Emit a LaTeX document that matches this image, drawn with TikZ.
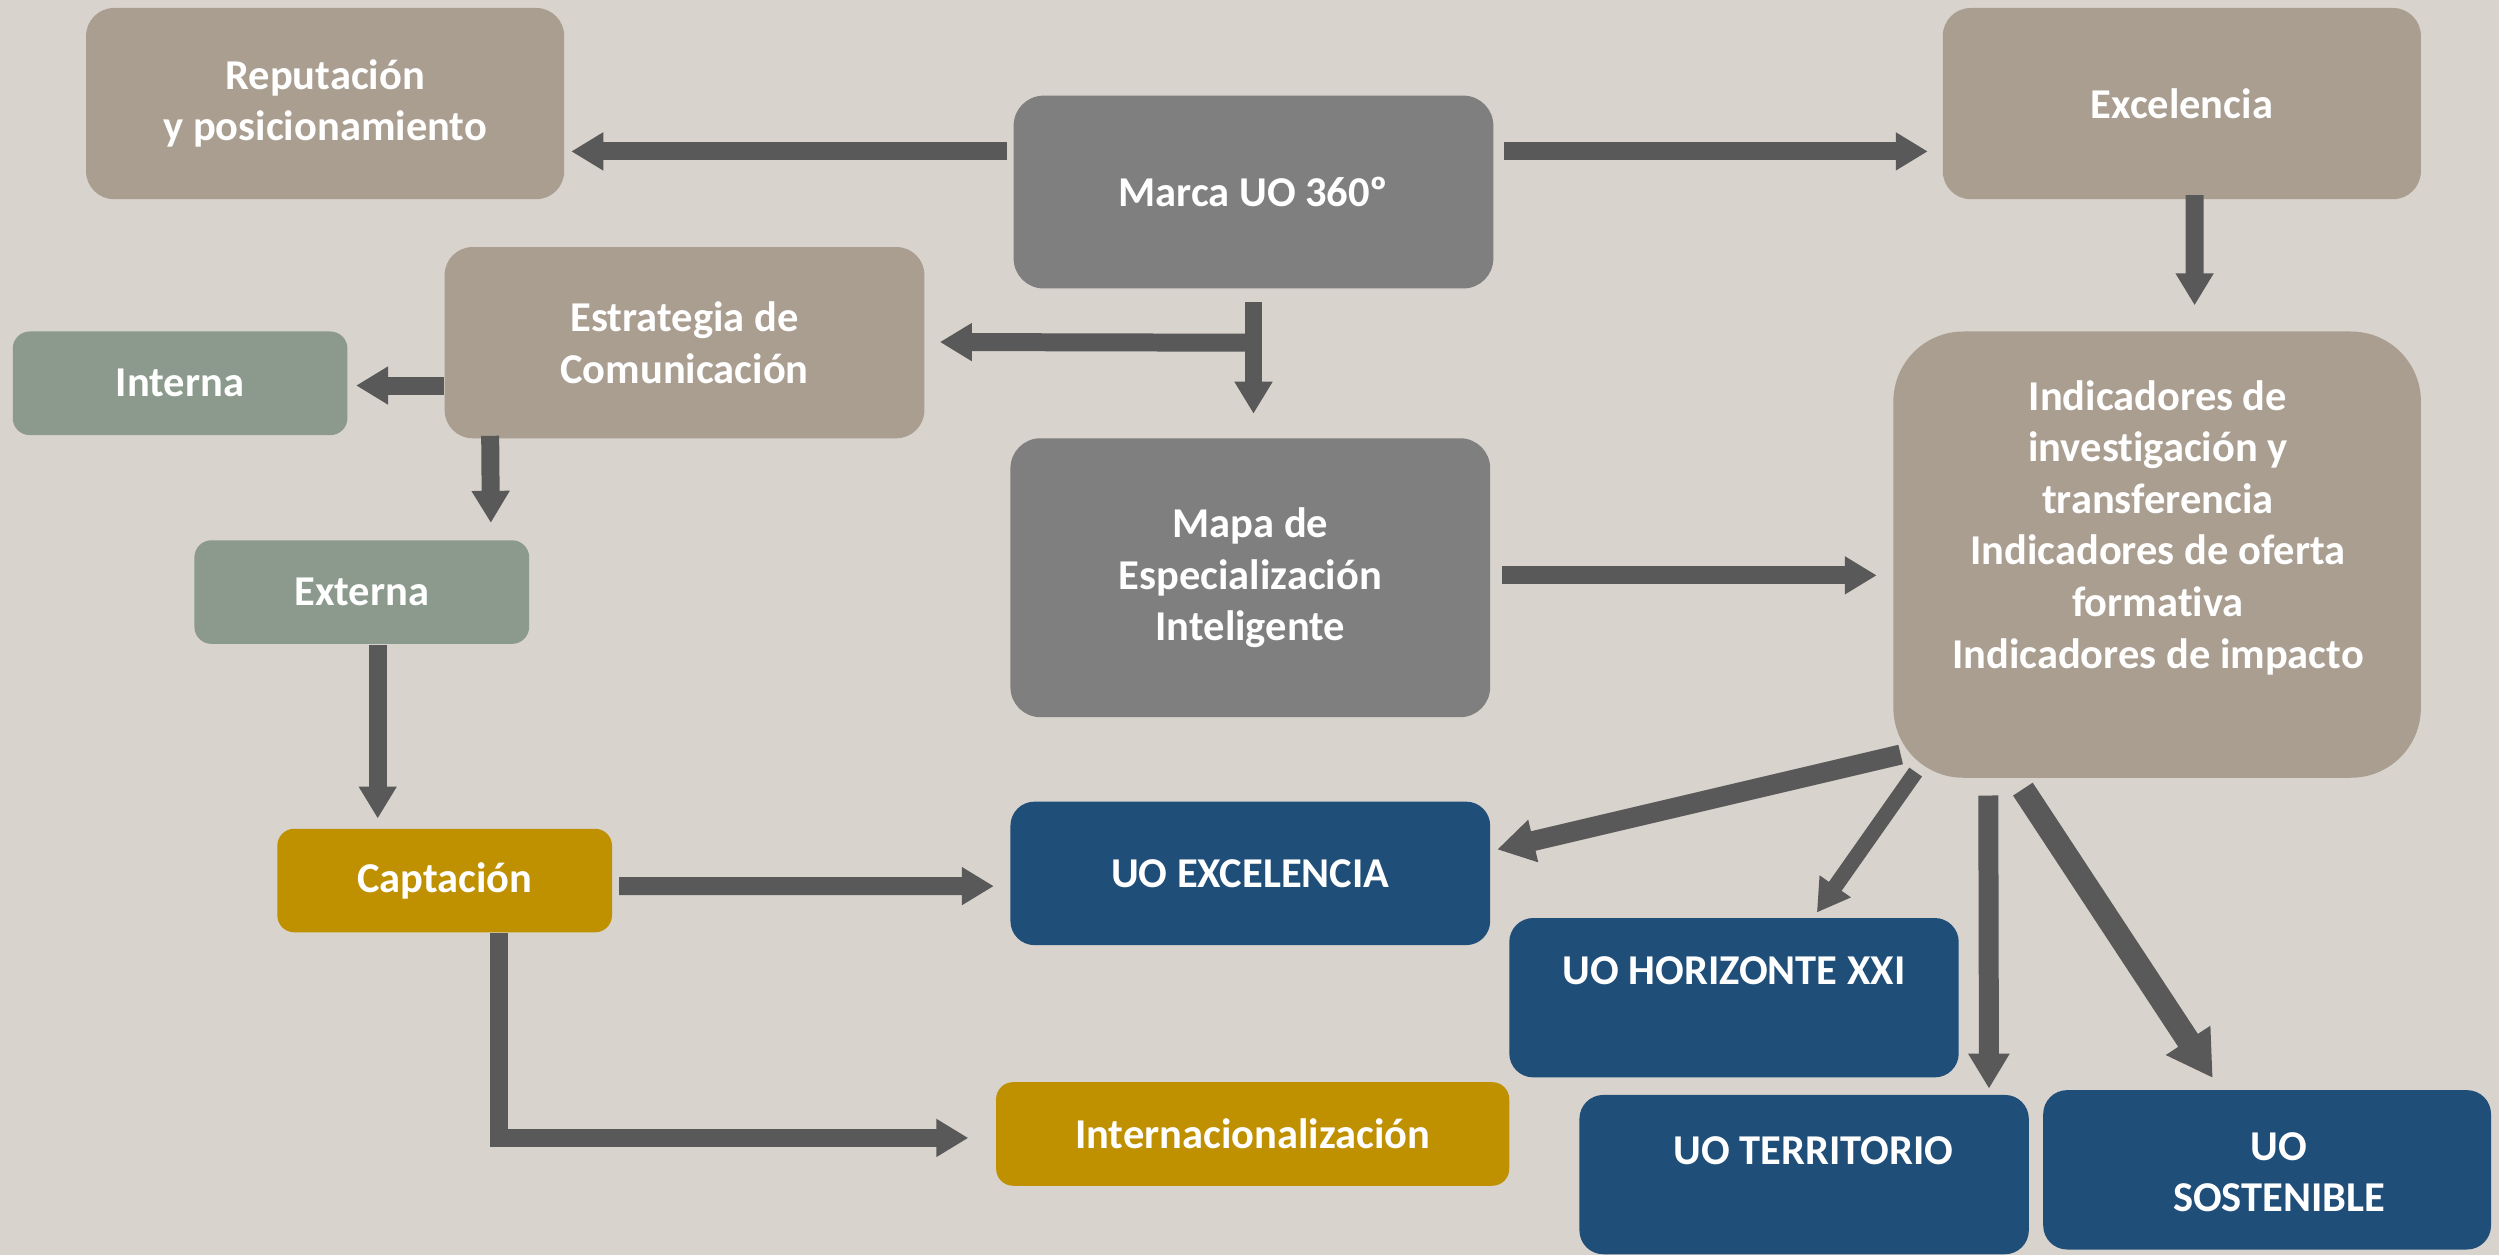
\documentclass[tikz,border=0pt]{standalone}
\usepackage{fontspec}
\setmainfont[Ligatures=NoCommon]{Carlito}
\usetikzlibrary{arrows.meta,calc}
\definecolor{bg}{HTML}{D8D3CD}
\definecolor{taupe}{HTML}{AA9E91}
\definecolor{grayb}{HTML}{7F7F7F}
\definecolor{sage}{HTML}{8B9A8C}
\definecolor{gold}{HTML}{BF9000}
\definecolor{navy}{HTML}{1F4E79}
\definecolor{arrc}{HTML}{595959}
\begin{document}
\begin{tikzpicture}[x=0.015938cm, y=-0.015938cm,
  bw/.style={minimum width=#1*0.015938cm},
  bh/.style={minimum height=#1*0.015938cm},
  lbl/.style={inner sep=0pt, text=white, align=center, font=\bfseries\fontsize{12.1}{14.7}\selectfont},
  box/.style={lbl, rounded corners=0.28cm},
  tbox/.style={box, fill=taupe},
  gbox/.style={box, fill=grayb, rounded corners=0.3cm},
  sbox/.style={box, fill=sage, rounded corners=0.17cm},
  ybox/.style={box, fill=gold, rounded corners=0.17cm},
  nbox/.style={box, fill=navy, rounded corners=0.24cm},
  arr/.style={draw=arrc, line width=0.18cm, -{Triangle[length=0.32cm,width=0.36cm]}},
  arrT/.style={draw=arrc, line width=0.2cm, -{Triangle[length=0.35cm,width=0.39cm]}},
  arrS/.style={draw=arrc, line width=0.235cm, -{Triangle[length=0.45cm,width=0.50cm]}},
  arrH/.style={draw=arrc, line width=0.155cm, -{Triangle[length=0.32cm,width=0.36cm]}},
  arrE/.style={draw=arrc, line width=0.2cm, -{Triangle[length=0.37cm,width=0.41cm]}}
]
\fill[bg] (0,0) rectangle (1568,787.4);
\useasboundingbox (0,0) rectangle (1568,787.4);

% boxes
\node[tbox, bw=300, bh=120] (rep) at (204,65) {Reputación\\y posicionamiento};
\node[gbox, bw=301, bh=121] (marca) at (786.5,120.5) {Marca UO 360º};
\node[tbox, bw=300, bh=120] (excel) at (1369,65) {Excelencia};
\node[tbox, bw=301, bh=120] (estr) at (429.5,215) {Estrategia de\\Comunicación};
\node[sbox, bw=210, bh=65] (int) at (113,240.5) {Interna};
\node[sbox, bw=210, bh=65] (ext) at (227,371.5) {Externa};
\node[gbox, bw=301, bh=175] (mapa) at (784.5,362.5) {Mapa de\\Especialización\\Inteligente};
\node[tbox, rounded corners=0.7cm, bw=331, bh=280] (ind) at (1353.5,348) {};
\node[lbl] (indT) at (1354,331) {Indicadores de\\investigación y\\transferencia\\Indicadores de oferta\\formativa\\Indicadores de impacto};
\node[ybox, bw=210, bh=65] (capt) at (279,552.5) {Captación};
\node[nbox, bw=301, bh=90] (uoexc) at (784.5,548) {UO EXCELENCIA};
\node[nbox, bw=282, bh=100] (hor) at (1088,626) {};
\node[lbl] (horT) at (1088,609) {UO HORIZONTE XXI};
\node[ybox, bw=322, bh=65] (intl) at (786,711.5) {Internacionalización};
\node[nbox, bw=282, bh=100] (ter) at (1132,737) {};
\node[lbl] (terT) at (1138,722) {UO TERRITORIO};
\node[nbox, bw=281, bh=100] (sos) at (1422.5,734) {};
\node[lbl] (sosT) at (1430,735.5) {UO\\SOSTENIBLE};

% arrows
\draw[arr] ($(marca.west)+(-4,-25.5)$) -- ($(rep.east)+(4,30)$);
\draw[arr] ($(marca.east)+(6,-25.5)$) -- ($(excel.west)+(-9,30)$);
\draw[arr] ($(excel.south)+(8,-3)$) -- ($(ind.north)+(23.5,-16)$);
\draw[arr] ($(marca.south)+(0,8.3)$) -- ($(mapa.north)+(2,-15)$);
\draw[arr] ($(marca.south)+(0,33.6)$) -- ($(estr.east)+(9.3,-0.4)$);
\draw[arr] ($(estr.west)+(0,26.9)$) -- ($(int.east)+(5,1.4)$);
\draw[arr] ($(estr.south west)+(29,-2)$) -- ($(ext.north)+(81,-10.5)$);
\draw[arr] ($(ext.south)+(10,0)$) -- ($(capt.north)+(-42,-6)$);
\draw[arr] ($(mapa.east)+(7,-1.5)$) -- ($(ind.west)+(-10,13)$);
\draw[arr] ($(capt.east)+(4,3.5)$) -- ($(uoexc.west)+(-10,8)$);
\draw[arr] ($(capt.south)+(34,0)$) |- ($(intl.west)+(-17,2.5)$);
\draw[arrE] ($(ind.south west)+(5,-15)$) -- ($(uoexc.east)+(4,-15)$);
\draw[arrH] ($(ind.south west)+(14.4,-4)$) -- ($(hor.north)+(52,-3)$);
\draw[arrT] ($(ind.south west)+(60,10.7)$) -- ($(ter.north)+(116,-3.5)$);
\draw[arrS] ($(ind.south west)+(81.7,6.7)$) -- ($(sos.north)+(-34.1,-7.2)$);
\end{tikzpicture}
\end{document}
